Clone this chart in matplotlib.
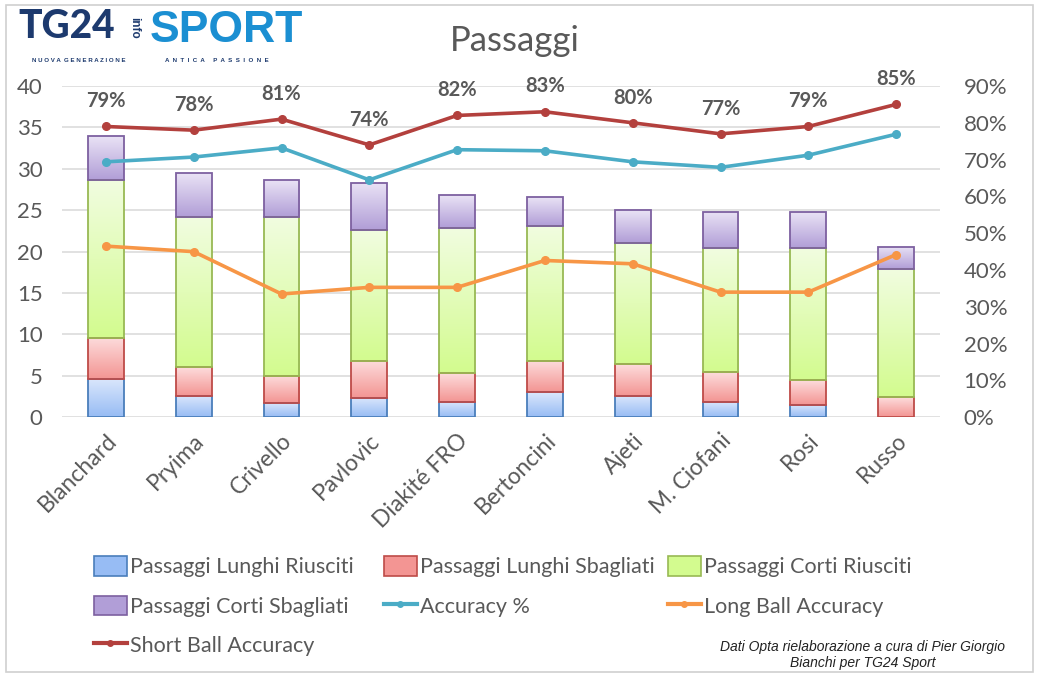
import numpy as np
import matplotlib
matplotlib.use("Agg")
import matplotlib.pyplot as plt
from matplotlib.colors import LinearSegmentedColormap
from matplotlib.patches import Patch, Rectangle
from matplotlib.lines import Line2D
from matplotlib.ticker import PercentFormatter

plt.rcParams['font.family'] = ['Lato', 'DejaVu Sans']

players = ["Blanchard", "Pryima", "Crivello", "Pavlovic", "Diakité FRO",
           "Bertoncini", "Ajeti", "M. Ciofani", "Rosi", "Russo"]
lunghi_ok = [4.6, 2.6, 1.7, 2.3, 1.9, 3.0, 2.6, 1.9, 1.5, 0.0]
lunghi_ko = [5.0, 3.5, 3.3, 4.5, 3.4, 3.8, 3.8, 3.6, 3.0, 2.4]
corti_ok = [19.1, 18.1, 19.2, 15.8, 17.6, 16.3, 14.7, 14.9, 16.0, 15.5]
corti_ko = [5.3, 5.3, 4.4, 5.7, 3.9, 3.5, 3.9, 4.4, 4.3, 2.7]
accuracy = [0.694, 0.707, 0.732, 0.645, 0.727, 0.724, 0.694, 0.679, 0.712, 0.769]
long_acc = [0.465, 0.450, 0.335, 0.353, 0.353, 0.426, 0.417, 0.340, 0.340, 0.442]
short_acc = [0.79, 0.78, 0.81, 0.74, 0.82, 0.83, 0.80, 0.77, 0.79, 0.85]

GRAY = "#595959"

# (top colour, bottom colour, edge colour)
styles = [
    ("Passaggi Lunghi Riusciti", lunghi_ok, "#dbe7fc", "#97bcf4", "#4a7ebb"),
    ("Passaggi Lunghi Sbagliati", lunghi_ko, "#fddcdc", "#f39593", "#be4b48"),
    ("Passaggi Corti Riusciti", corti_ok, "#f1fde0", "#d3fb8f", "#98b954"),
    ("Passaggi Corti Sbagliati", corti_ko, "#e9e2f5", "#b19ed7", "#7d60a0"),
]

fig = plt.figure(figsize=(10.39, 6.77), dpi=100)
ax = fig.add_axes([62 / 1039, 1 - 417.3 / 677, 878 / 1039, 331.3 / 677])
ax2 = ax.twinx()

x = np.arange(len(players))
bottom = np.zeros(len(players))
for name, vals, top_c, bot_c, edge in styles:
    vals = np.array(vals)
    lws = [1.3 if v > 0 else 0 for v in vals]
    bars = ax.bar(x, vals, 0.41, bottom=bottom, facecolor="none",
                  edgecolor=edge, linewidth=lws, zorder=2)
    cmap = LinearSegmentedColormap.from_list(name, [bot_c, top_c])
    for b in bars:
        h = b.get_height()
        if h <= 0:
            continue
        bx, by, bw = b.get_x(), b.get_y(), b.get_width()
        im = ax.imshow(np.linspace(0, 1, 64).reshape(-1, 1), cmap=cmap,
                       extent=[bx, bx + bw, by, by + h], origin="lower",
                       aspect="auto", zorder=1.5)
        im.set_clip_path(b)
    bottom += vals

ax.set_xlim(-0.5, len(players) - 0.5)
ax.set_ylim(0, 40)
ax.set_yticks(range(0, 41, 5))
ax.set_axisbelow(True)
ax.yaxis.grid(True, color="#d9d9d9", linewidth=1.1)
ax.set_xticks(x)
ax.set_xticklabels(players, rotation=45, ha="right", rotation_mode="anchor",
                   fontsize=16.5, color=GRAY)
ax.tick_params(axis="y", length=0, labelsize=16, labelcolor=GRAY, pad=14)
ax.tick_params(axis="x", length=0, pad=9)
for s in ax.spines.values():
    s.set_visible(False)

line_styles = [
    ("Accuracy %", accuracy, "#4bacc6"),
    ("Long Ball Accuracy", long_acc, "#f79646"),
    ("Short Ball Accuracy", short_acc, "#b3403d"),
]
for name, vals, col in line_styles:
    ax2.plot(x, vals, color=col, linewidth=2.6, marker="o", markersize=5.5,
             markerfacecolor=col, markeredgecolor=col, zorder=3)

for xi, v in zip(x, short_acc):
    ax2.annotate(f"{v:.0%}", (xi, v), xytext=(0, 11), textcoords="offset points",
                 ha="center", va="bottom", fontsize=14.5, fontweight="bold", color=GRAY)

ax2.set_ylim(0, 0.9)
ax2.set_yticks(np.arange(0, 0.91, 0.1))
ax2.yaxis.set_major_formatter(PercentFormatter(1.0, decimals=0))
ax2.tick_params(axis="y", length=0, labelsize=16, labelcolor=GRAY, pad=17)
for s in ax2.spines.values():
    s.set_visible(False)

# title and logo
fig.text(515 / 1039, 1 - 41 / 677, "Passaggi", ha="center", va="center",
         fontsize=25, color=GRAY)
logo_font = ["Liberation Sans", "DejaVu Sans"]
fig.text(18 / 1039, 1 - 27 / 677, "TG24", ha="left", va="center", fontsize=28,
         fontweight="black", color="#1d3a6e", family=["Lato", "DejaVu Sans"])
fig.text(134 / 1039, 1 - 28 / 677, "info", ha="center", va="center", fontsize=8.5,
         fontweight="bold", color="#1d3a6e", rotation=-90, family=logo_font)
fig.text(150 / 1039, 1 - 30 / 677, "SPORT", ha="left", va="center", fontsize=32,
         fontweight="bold", color="#1b8fd2", family=logo_font)
fig.text(32 / 1039, 1 - 60 / 677, "N U O V A  G E N E R A Z I O N E", ha="left",
         va="center", fontsize=4.4, fontweight="bold", color="#1d3a6e", family=logo_font)
fig.text(165 / 1039, 1 - 60 / 677, "A  N  T  I  C  A     P  A  S  S  I  O  N  E",
         ha="left", va="center", fontsize=4.4, fontweight="bold", color="#1d3a6e",
         family=logo_font)

# legend, one column at a time so each column sits where Excel put it
patch_h = {name: Patch(facecolor=bot_c, edgecolor=edge, linewidth=1.2)
           for name, _, top_c, bot_c, edge in styles}
line_h = {name: Line2D([], [], color=col, linewidth=3, marker="o", markersize=4)
          for name, _, col in line_styles}
handles = {**patch_h, **line_h}
columns = [
    (90, ["Passaggi Lunghi Riusciti", "Passaggi Corti Sbagliati", "Short Ball Accuracy"]),
    (380, ["Passaggi Lunghi Sbagliati", "Accuracy %"]),
    (664, ["Passaggi Corti Riusciti", "Long Ball Accuracy"]),
]
for xpix, names in columns:
    fig.legend([handles[n] for n in names], names, loc="upper left",
               bbox_to_anchor=(xpix / 1039, 1 - 552 / 677), frameon=False,
               fontsize=15.5, labelcolor=GRAY, handlelength=1.5, handleheight=1.0,
               handletextpad=0.15, labelspacing=0.85, borderpad=0.2, borderaxespad=0)

fig.text(863 / 1039, 1 - 655 / 677,
         "Dati Opta rielaborazione a cura di Pier Giorgio\nBianchi per TG24 Sport",
         ha="center", va="center", fontsize=10, style="italic", color="#222222",
         family=logo_font, linespacing=1.25)

fig.patches.append(Rectangle((6 / 1039, 5 / 677), 1027 / 1039, 667 / 677,
                             transform=fig.transFigure, fill=False,
                             edgecolor="#d0d0d0", linewidth=1.2))

fig.savefig("out.png", dpi=100)
